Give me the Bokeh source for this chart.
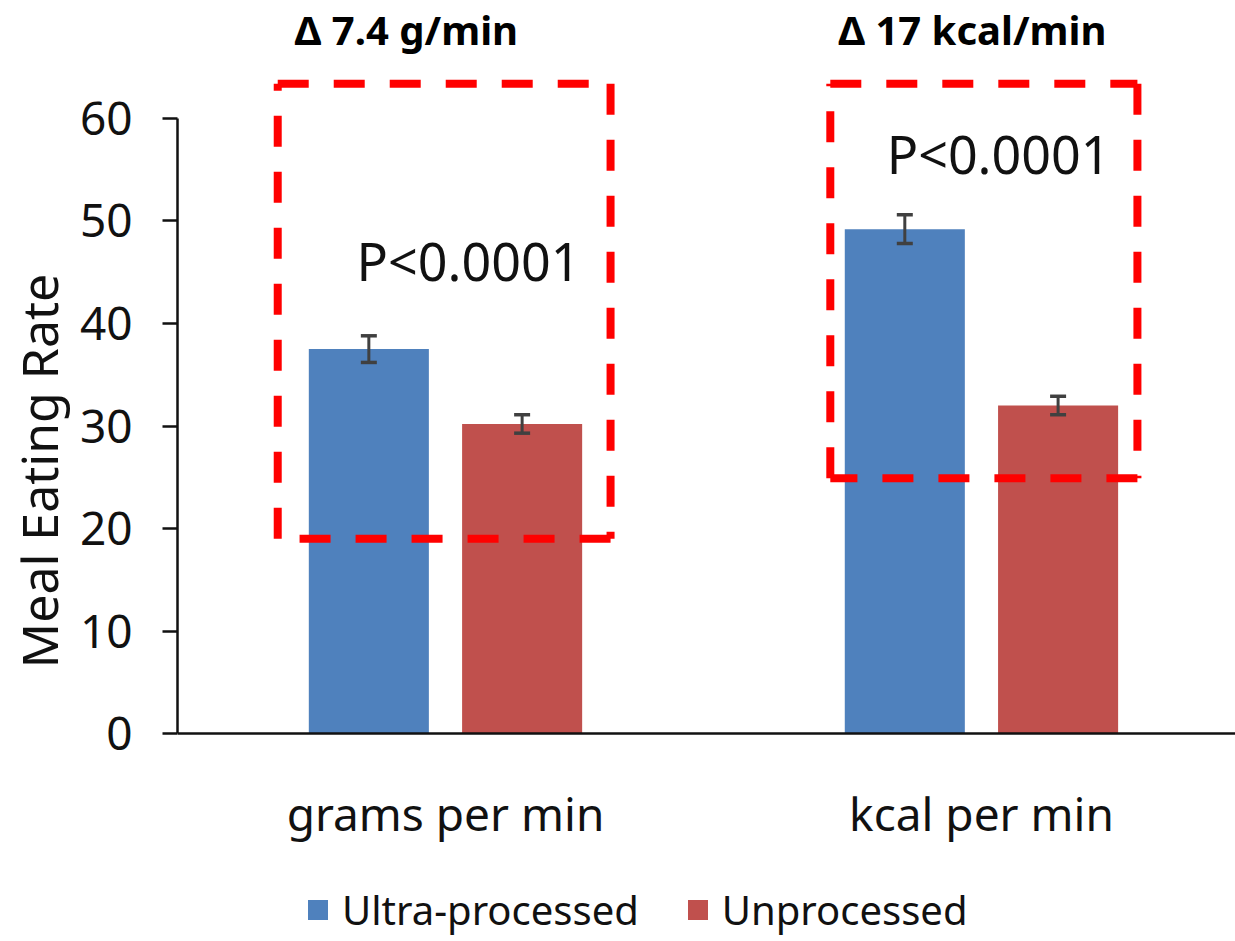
from bokeh.plotting import figure
from bokeh.models import (ColumnDataSource, Range1d, FixedTicker, Whisker, TeeHead,
                          Label, Legend, LegendItem, Span)
from bokeh.core.properties import value
from bokeh.embed import file_html
from bokeh.resources import INLINE

# ---- data ----
categories = ["grams per min", "kcal per min"]
series_names = ["Ultra-processed", "Unprocessed"]
ultra = [37.5, 49.2]
ultra_err = [1.3, 1.4]
unproc = [30.2, 32.0]
unproc_err = [0.9, 0.9]
y_ticks = [0, 10, 20, 30, 40, 50, 60]
delta_labels = ["Δ 7.4 g/min", "Δ 17 kcal/min"]
p_labels = ["P<0.0001", "P<0.0001"]

# ---- annotation geometry (data units) ----
box_left = [0.187, 1.218]
box_right = [0.808, 1.791]
box_bottom = [19.0, 24.9]
box_top = [63.4, 63.4]
p_x = [0.543, 1.532]
p_y = [46.1, 56.6]
d_x = [0.427, 1.483]
d_y = [71.4, 71.4]
cat_label_y = -7.8

BLUE = "#4F81BD"
RED = "#C0504D"
FONT = "Noto Sans"

centers = [i + 0.5 for i in range(len(categories))]
offset = 0.143
bar_w = 0.224

src_u = ColumnDataSource(dict(
    x=[c - offset for c in centers], top=ultra,
    upper=[v + e for v, e in zip(ultra, ultra_err)],
    lower=[v - e for v, e in zip(ultra, ultra_err)]))
src_n = ColumnDataSource(dict(
    x=[c + offset for c in centers], top=unproc,
    upper=[v + e for v, e in zip(unproc, unproc_err)],
    lower=[v - e for v, e in zip(unproc, unproc_err)]))

p = figure(width=1235, height=941, output_backend="svg", toolbar_location=None,
           x_range=Range1d(0, 1.974), y_range=Range1d(-20.29, 71.51),
           x_axis_location=None,
           min_border_left=177, min_border_right=0, min_border_top=0,
           min_border_bottom=0)
p.outline_line_color = None
p.xgrid.visible = False
p.ygrid.visible = False
p.background_fill_color = "white"
p.border_fill_color = "white"

r_u = p.vbar(x="x", top="top", width=bar_w, source=src_u, fill_color=BLUE, line_color=None)
r_n = p.vbar(x="x", top="top", width=bar_w, source=src_n, fill_color=RED, line_color=None)

for src in (src_u, src_n):
    w = Whisker(base="x", upper="upper", lower="lower", source=src,
                line_color="#404040", line_width=3, level="annotation",
                upper_head=TeeHead(size=16, line_color="#404040", line_width=3.5),
                lower_head=TeeHead(size=16, line_color="#404040", line_width=3.5))
    p.add_layout(w)

# x axis line at zero
p.add_layout(Span(location=0, dimension="width", line_color="#111111", line_width=2.5))

# category labels
p.text(x=centers, y=[cat_label_y] * len(centers), text=categories,
       text_align="center", text_baseline="alphabetic",
       text_font=value(FONT), text_font_size="46px", text_color="#111111")

# dashed boxes
xs, ys = [], []
for l, r, b, t in zip(box_left, box_right, box_bottom, box_top):
    xs += [[l, r], [r, r], [r, l], [l, l]]
    ys += [[t, t], [t, b], [b, b], [b, t]]
p.multi_line(xs=xs, ys=ys, line_color="#FF0000", line_width=8, line_dash="31 25")

# p-value labels
for x, y, t in zip(p_x, p_y, p_labels):
    p.add_layout(Label(x=x, y=y, text=t, text_align="center", text_baseline="alphabetic",
                       text_font=FONT, text_font_size="52px", text_color="#111111"))
# delta labels
for x, y, t in zip(d_x, d_y, delta_labels):
    p.add_layout(Label(x=x, y=y, text=t, text_align="center", text_baseline="top",
                       text_font=FONT, text_font_style="bold", text_font_size="40px",
                       text_color="#000000"))

# y axis
ya = p.yaxis[0]
ya.ticker = FixedTicker(ticks=y_ticks)
ya.bounds = (0, 60)
ya.axis_label = "Meal Eating Rate"
ya.axis_label_text_font = FONT
ya.axis_label_text_font_style = "normal"
ya.axis_label_text_font_size = "50px"
ya.axis_label_text_color = "#111111"
ya.axis_label_standoff = 4
ya.major_label_text_font = FONT
ya.major_label_text_font_size = "46px"
ya.major_label_text_color = "#111111"
ya.major_label_standoff = 30
ya.major_tick_out = 15
ya.major_tick_in = 0
ya.minor_tick_line_color = None
ya.axis_line_width = 2.5
ya.major_tick_line_width = 2.5
ya.axis_line_color = "#111111"
ya.major_tick_line_color = "#111111"

legend = Legend(items=[LegendItem(label=series_names[0], renderers=[r_u]),
                       LegendItem(label=series_names[1], renderers=[r_n])],
                orientation="horizontal", location=(128, 4),
                label_text_font=FONT, label_text_font_size="40px",
                label_text_color="#111111", glyph_width=25, glyph_height=25,
                label_standoff=12, spacing=46, padding=0, margin=0,
                border_line_color=None, background_fill_alpha=0)
p.add_layout(legend)

open("out.html", "w").write(file_html(p, INLINE))
